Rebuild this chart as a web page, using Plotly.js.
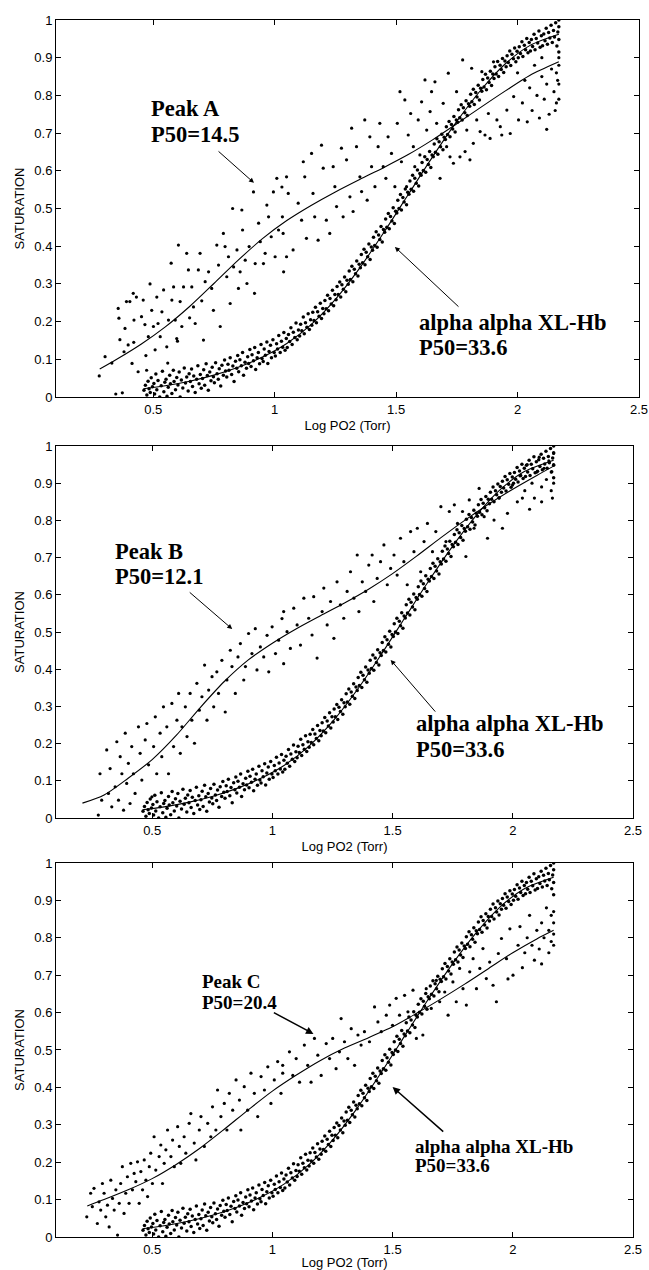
<!DOCTYPE html>
<html><head><meta charset="utf-8">
<script src="https://cdn.plot.ly/plotly-3.0.1.min.js"></script>
<style>html,body{margin:0;padding:0;background:#fff}</style>
</head><body><div id="chart" style="width:649px;height:1270px"></div>
<script>
// ---- tick labels ----
const xTickVals = [0.5, 1, 1.5, 2, 2.5];
const xTickText = ["0.5", "1", "1.5", "2", "2.5"];
const yTickVals = [0, 0.1, 0.2, 0.3, 0.4, 0.5, 0.6, 0.7, 0.8, 0.9, 1];
const yTickText = ["0", "0.1", "0.2", "0.3", "0.4", "0.5", "0.6", "0.7", "0.8", "0.9", "1"];

// ---- fitted curves ----
const alphaFitX = [0.46,0.55,0.65,0.75,0.85,0.95,1.05,1.15,1.25,1.35,1.45,1.55,1.65,1.75,1.85,1.95,2.05,2.17];
const alphaFitY = [0.022,0.030,0.042,0.058,0.079,0.106,0.142,0.192,0.259,0.342,0.437,0.537,0.637,0.731,0.815,0.884,0.932,0.962];

const peakAFitX = [0.28,0.35,0.45,0.55,0.65,0.75,0.85,0.95,1.05,1.15,1.25,1.35,1.45,1.55,1.65,1.75,1.85,1.95,2.05,2.17];
const peakAFitY = [0.074,0.100,0.140,0.186,0.240,0.301,0.363,0.420,0.468,0.508,0.544,0.577,0.609,0.643,0.682,0.725,0.769,0.812,0.853,0.889];

const peakBFitX = [0.21,0.30,0.40,0.50,0.60,0.70,0.80,0.90,1.00,1.10,1.20,1.30,1.40,1.50,1.60,1.70,1.80,1.90,2.00,2.10,2.17];
const peakBFitY = [0.040,0.062,0.107,0.157,0.222,0.297,0.367,0.425,0.470,0.509,0.544,0.578,0.615,0.657,0.704,0.753,0.800,0.844,0.884,0.921,0.946];

const peakCFitX = [0.23,0.30,0.40,0.50,0.60,0.70,0.80,0.90,1.00,1.10,1.20,1.30,1.40,1.50,1.60,1.70,1.80,1.90,2.00,2.10,2.17];
const peakCFitY = [0.083,0.100,0.126,0.156,0.194,0.238,0.288,0.340,0.390,0.433,0.472,0.505,0.533,0.562,0.598,0.636,0.676,0.718,0.760,0.797,0.820];

// ---- measured points (x = log PO2, y = saturation) ----
const alphaPts = [
[0.462,0.018],[0.468,0.031],[0.474,0.005],[0.479,0.042],[0.483,0.022],[0.488,0.012],[0.492,0.051],[0.497,0.027],
[0.503,0.036],[0.506,0.008],[0.511,0.061],[0.515,0.019],[0.52,0.044],[0.527,0.0],[0.533,0.03],[0.538,0.068],[0.544,0.014],[0.548,0.039],
[0.553,0.047],[0.557,0.002],[0.562,0.026],[0.568,0.058],[0.571,0.035],[0.577,0.009],[0.583,0.071],[0.586,0.041],[0.592,0.019],[0.597,0.052],
[0.602,0.032],[0.607,0.066],[0.611,0.0],[0.616,0.045],[0.622,0.024],[0.628,0.077],[0.633,0.037],[0.638,0.053],[0.644,0.016],[0.648,0.062],
[0.653,0.041],[0.658,0.074],[0.662,0.028],[0.667,0.056],[0.673,0.012],[0.679,0.047],[0.684,0.083],[0.689,0.035],[0.694,0.06],[0.698,0.023],
[0.703,0.049],[0.708,0.072],[0.712,0.031],[0.718,0.088],[0.723,0.057],[0.727,0.018],[0.733,0.066],[0.738,0.043],[0.743,0.079],[0.748,0.054],
[0.752,0.038],[0.757,0.091],[0.763,0.062],[0.768,0.047],[0.772,0.075],[0.778,0.029],[0.783,0.084],[0.789,0.058],[0.794,0.098],[0.798,0.069],
[0.803,0.053],[0.808,0.087],[0.812,0.071],[0.817,0.104],[0.823,0.06],[0.828,0.082],[0.833,0.041],[0.839,0.095],[0.844,0.076],[0.848,0.11],
[0.852,0.067],[0.857,0.099],[0.863,0.083],[0.868,0.118],[0.872,0.058],[0.878,0.092],[0.884,0.076],[0.889,0.107],[0.893,0.089],[0.898,0.126],
[0.903,0.081],[0.907,0.112],[0.913,0.096],[0.918,0.131],[0.922,0.073],[0.928,0.104],[0.933,0.118],[0.938,0.088],[0.944,0.139],[0.948,0.102],
[0.953,0.094],[0.957,0.127],[0.962,0.111],[0.968,0.146],[0.972,0.089],[0.977,0.121],[0.983,0.137],[0.987,0.104],[0.993,0.152],[0.998,0.118],
[1.003,0.109],[1.008,0.141],[1.012,0.127],[1.017,0.163],[1.023,0.118],[1.028,0.148],[1.033,0.132],[1.038,0.171],[1.043,0.124],[1.048,0.155],
[1.052,0.131],[1.057,0.166],[1.062,0.147],[1.067,0.184],[1.072,0.139],[1.077,0.172],[1.083,0.158],[1.088,0.196],[1.093,0.152],[1.098,0.178],
[1.103,0.162],[1.107,0.193],[1.112,0.176],[1.118,0.212],[1.122,0.168],[1.127,0.197],[1.133,0.185],[1.138,0.221],[1.143,0.179],[1.148,0.205],
[1.153,0.19],[1.157,0.225],[1.162,0.203],[1.168,0.238],[1.172,0.197],[1.177,0.226],[1.183,0.214],[1.188,0.249],[1.193,0.208],[1.198,0.235],
[1.203,0.221],[1.207,0.256],[1.212,0.234],[1.218,0.27],[1.222,0.229],[1.228,0.261],[1.233,0.247],[1.238,0.283],[1.243,0.242],[1.248,0.272],
[1.253,0.258],[1.257,0.293],[1.262,0.272],[1.268,0.305],[1.272,0.265],[1.277,0.298],[1.283,0.286],[1.288,0.318],[1.293,0.279],[1.298,0.31],
[1.303,0.299],[1.307,0.334],[1.312,0.312],[1.318,0.347],[1.322,0.306],[1.328,0.339],[1.333,0.327],[1.338,0.361],[1.343,0.321],[1.348,0.352],
[1.353,0.343],[1.357,0.378],[1.362,0.356],[1.368,0.392],[1.372,0.351],[1.377,0.384],[1.383,0.372],[1.388,0.406],[1.393,0.365],[1.398,0.398],
[1.403,0.389],[1.407,0.424],[1.412,0.402],[1.418,0.438],[1.422,0.397],[1.428,0.43],[1.433,0.418],[1.438,0.452],[1.443,0.411],[1.448,0.444],
[1.453,0.437],[1.457,0.472],[1.462,0.45],[1.468,0.487],[1.472,0.446],[1.477,0.479],[1.483,0.467],[1.488,0.502],[1.493,0.46],[1.498,0.493],
[1.503,0.488],[1.507,0.522],[1.512,0.5],[1.518,0.537],[1.522,0.496],[1.528,0.529],[1.533,0.517],[1.538,0.552],[1.543,0.51],[1.548,0.543],
[1.553,0.538],[1.557,0.573],[1.562,0.551],[1.568,0.588],[1.572,0.546],[1.577,0.58],[1.583,0.567],[1.588,0.602],[1.593,0.56],[1.598,0.593],
[1.603,0.588],[1.607,0.622],[1.612,0.601],[1.618,0.637],[1.622,0.596],[1.628,0.63],[1.633,0.617],[1.638,0.651],[1.643,0.609],[1.648,0.642],
[1.653,0.637],[1.657,0.671],[1.662,0.649],[1.668,0.685],[1.672,0.644],[1.677,0.677],[1.683,0.664],[1.688,0.697],[1.693,0.656],[1.698,0.689],
[1.703,0.683],[1.707,0.717],[1.712,0.696],[1.718,0.731],[1.722,0.69],[1.728,0.723],[1.733,0.711],[1.738,0.744],[1.743,0.703],[1.748,0.735],
[1.753,0.729],[1.757,0.762],[1.762,0.741],[1.768,0.775],[1.772,0.735],[1.777,0.767],[1.783,0.754],[1.788,0.786],[1.793,0.747],[1.798,0.778],
[1.803,0.771],[1.807,0.803],[1.812,0.783],[1.818,0.816],[1.822,0.776],[1.828,0.808],[1.833,0.796],[1.838,0.827],[1.843,0.788],[1.848,0.819],
[1.853,0.811],[1.857,0.842],[1.862,0.822],[1.868,0.856],[1.872,0.815],[1.877,0.846],[1.883,0.834],[1.888,0.864],[1.893,0.826],[1.898,0.857],
[1.903,0.845],[1.907,0.876],[1.912,0.857],[1.918,0.89],[1.922,0.85],[1.928,0.88],[1.933,0.869],[1.938,0.898],[1.943,0.861],[1.948,0.891],
[1.953,0.876],[1.957,0.905],[1.962,0.887],[1.968,0.918],[1.972,0.879],[1.977,0.909],[1.983,0.897],[1.988,0.926],[1.993,0.889],[1.998,0.917],
[2.003,0.9],[2.007,0.929],[2.012,0.911],[2.018,0.942],[2.022,0.903],[2.028,0.933],[2.033,0.921],[2.038,0.951],[2.043,0.913],[2.048,0.94],
[2.053,0.918],[2.057,0.948],[2.062,0.93],[2.068,0.962],[2.072,0.921],[2.077,0.951],[2.083,0.939],[2.088,0.971],[2.093,0.928],[2.098,0.958],
[2.103,0.932],[2.108,0.963],[2.113,0.945],[2.118,0.978],[2.123,0.936],[2.128,0.967],[2.133,0.952],[2.138,0.986],[2.143,0.94],[2.148,0.972],
[2.152,0.955],[2.157,0.993],[2.162,0.931],[2.166,0.968],[2.17,0.948],[2.17,0.982],[2.17,0.915],[2.17,1.0]
];

const peakAPts = [
[0.278,0.056],[0.302,0.107],[0.346,0.008],[0.373,0.011],[0.356,0.235],[0.359,0.209],[0.363,0.152],[0.384,0.182],[0.39,0.253],[0.404,0.253],
[0.418,0.275],[0.397,0.138],[0.413,0.089],[0.421,0.204],[0.431,0.265],[0.438,0.067],[0.452,0.213],[0.459,0.257],[0.466,0.192],[0.473,0.071],
[0.487,0.30],[0.494,0.23],[0.501,0.187],[0.515,0.265],[0.508,0.125],[0.529,0.16],[0.536,0.226],[0.543,0.284],[0.556,0.133],[0.563,0.204],
[0.574,0.355],[0.577,0.257],[0.584,0.292],[0.591,0.204],[0.604,0.403],[0.597,0.155],[0.611,0.253],[0.618,0.187],[0.625,0.292],[0.638,0.381],
[0.645,0.337],[0.659,0.292],[0.666,0.239],[0.673,0.195],[0.686,0.337],[0.693,0.381],[0.707,0.151],[0.714,0.306],[0.728,0.332],[0.741,0.288],
[0.748,0.23],[0.762,0.403],[0.769,0.35],[0.776,0.187],[0.789,0.434],[0.796,0.399],[0.803,0.319],[0.81,0.372],[0.817,0.248],[0.827,0.5],
[0.831,0.345],[0.845,0.39],[0.851,0.288],[0.858,0.332],[0.865,0.496],[0.868,0.443],[0.879,0.363],[0.886,0.301],[0.895,0.399],[0.913,0.544],
[0.917,0.275],[0.92,0.354],[0.934,0.461],[0.941,0.412],[0.954,0.354],[0.961,0.381],[0.968,0.509],[0.975,0.478],[0.986,0.425],[0.995,0.544],
[1.002,0.372],[1.009,0.58],[1.016,0.443],[1.03,0.557],[1.032,0.478],[1.037,0.332],[0.33,0.09],[0.42,0.145],[0.47,0.11],[0.52,0.195],
[0.60,0.148],[0.65,0.21],[0.70,0.255],[0.56,0.09],[0.48,0.16],[0.38,0.12],
[1.049,0.584],[1.056,0.54],[1.035,0.434],[1.049,0.372],[1.076,0.39],[1.097,0.514],[1.111,0.469],[1.118,0.624],[1.124,0.584],[1.131,0.421],
[1.152,0.646],[1.158,0.54],[1.165,0.478],[1.179,0.416],[1.193,0.668],[1.20,0.607],[1.213,0.469],[1.227,0.434],[1.241,0.611],[1.248,0.558],
[1.255,0.505],[1.275,0.66],[1.282,0.478],[1.296,0.629],[1.31,0.531],[1.317,0.713],[1.323,0.492],[1.337,0.664],[1.351,0.584],[1.358,0.545],
[1.371,0.735],[1.381,0.522],[1.392,0.69],[1.399,0.611],[1.413,0.558],[1.426,0.664],[1.433,0.726],[1.447,0.611],[1.458,0.58],[1.467,0.69],
[1.481,0.646],[1.495,0.558],[1.505,0.726],[1.516,0.81],[1.522,0.624],[1.536,0.788],[1.543,0.558],[1.55,0.695],[1.56,0.752],[1.571,0.664],
[1.577,0.611],[1.591,0.735],[1.598,0.642],[1.605,0.783],[1.619,0.841],[1.626,0.708],[1.64,0.757],[1.646,0.81],[1.66,0.836],[1.667,0.726],
[1.681,0.58],[1.694,0.779],[1.708,0.664],[1.715,0.859],[1.722,0.637],[1.736,0.62],[1.749,0.81],[1.763,0.637],[1.774,0.894],[1.784,0.651],
[1.791,0.708],[1.804,0.629],[1.811,0.872],[1.818,0.673],[1.832,0.735],[1.846,0.704],[1.853,0.863],[1.866,0.695],[1.88,0.752],[1.887,0.686],
[1.901,0.889],[1.915,0.735],[1.929,0.717],[1.935,0.695],[1.956,0.761],[1.97,0.699],[1.984,0.797],[2.004,0.735],
[2.02,0.78],[2.03,0.84],[2.05,0.82],[2.06,0.76],[2.07,0.88],[2.08,0.80],[2.09,0.74],[2.10,0.85],[2.11,0.79],[2.12,0.83],
[2.13,0.75],[2.14,0.87],[2.15,0.81],[2.16,0.78],[2.16,0.86],[2.17,0.79],[2.17,0.83],[2.17,0.88],[2.17,0.90],[2.165,0.84],
[2.155,0.76],[2.12,0.71],[2.10,0.90],[2.04,0.73],[2.00,0.86]
];

const peakBPts = [
[0.276,0.008],[0.283,0.119],[0.29,0.048],[0.311,0.183],[0.318,0.066],[0.325,0.133],[0.332,0.030],[0.346,0.084],[0.353,0.205],[0.36,0.048],
[0.367,0.165],[0.374,0.119],[0.381,0.021],[0.388,0.228],[0.394,0.093],[0.401,0.147],[0.408,0.039],[0.415,0.192],[0.422,0.119],[0.429,0.066],
[0.443,0.245],[0.45,0.174],[0.457,0.102],[0.471,0.21],[0.478,0.254],[0.485,0.143],[0.499,0.057],[0.506,0.192],[0.513,0.272],[0.519,0.119],
[0.533,0.228],[0.54,0.165],[0.547,0.299],[0.561,0.245],[0.568,0.119],[0.582,0.308],[0.589,0.192],[0.603,0.263],[0.61,0.335],[0.617,0.174],
[0.624,0.245],[0.638,0.299],[0.645,0.219],[0.658,0.335],[0.665,0.263],[0.676,0.201],[0.686,0.362],[0.696,0.29],[0.707,0.326],[0.718,0.411],
[0.728,0.263],[0.735,0.344],[0.749,0.38],[0.756,0.299],[0.769,0.393],[0.776,0.335],[0.79,0.424],[0.804,0.285],[0.811,0.371],[0.825,0.451],
[0.832,0.407],[0.846,0.335],[0.857,0.433],[0.867,0.469],[0.881,0.371],[0.888,0.407],[0.901,0.496],[0.915,0.442],[0.929,0.509],[0.936,0.398],
[0.95,0.46],[0.964,0.433],[0.978,0.491],[0.985,0.393],[0.999,0.514],[1.013,0.442],[1.026,0.478],[1.04,0.536],[1.047,0.415],
[1.047,0.555],[1.061,0.501],[1.075,0.456],[1.089,0.564],[1.103,0.519],[1.117,0.465],[1.131,0.591],[1.151,0.537],[1.165,0.492],[1.172,0.595],
[1.186,0.43],[1.207,0.555],[1.214,0.618],[1.228,0.519],[1.242,0.582],[1.256,0.483],[1.269,0.635],[1.283,0.573],[1.297,0.537],[1.311,0.609],
[1.325,0.662],[1.339,0.591],[1.353,0.707],[1.36,0.555],[1.374,0.635],[1.388,0.609],[1.401,0.68],[1.415,0.707],[1.422,0.582],[1.436,0.644],
[1.45,0.689],[1.464,0.734],[1.478,0.627],[1.492,0.671],[1.506,0.707],[1.519,0.653],[1.533,0.752],[1.547,0.689],[1.561,0.627],[1.575,0.77],
[1.589,0.716],[1.603,0.779],[1.617,0.662],[1.631,0.743],[1.645,0.792],[1.666,0.716],[1.68,0.77],[1.701,0.837],[1.722,0.743],[1.736,0.824],
[1.757,0.842],[1.77,0.792],[1.791,0.824],[1.805,0.703],[1.819,0.855],[1.839,0.779],[1.86,0.886],[1.881,0.81],[1.895,0.752],[1.922,0.801],
[1.943,0.86],[1.957,0.779],[1.978,0.819],[1.999,0.895],[2.019,0.85],
[2.03,0.92],[2.05,0.88],[2.06,0.95],[2.08,0.90],[2.09,0.86],[2.10,0.93],[2.11,0.97],[2.12,0.89],[2.13,0.94],[2.14,0.91],
[2.15,0.96],[2.16,0.88],[2.16,0.93],[2.17,0.90],[2.17,0.95],[2.17,0.98],[2.165,0.86],[2.04,0.86],[2.07,0.83],[2.12,0.85]
];

const peakCPts = [
[0.228,0.054],[0.244,0.117],[0.251,0.081],[0.258,0.13],[0.272,0.036],[0.279,0.094],[0.286,0.072],[0.293,0.143],[0.30,0.117],[0.307,0.054],
[0.314,0.085],[0.321,0.027],[0.328,0.152],[0.335,0.103],[0.342,0.072],[0.349,0.126],[0.356,0.005],[0.363,0.09],[0.369,0.143],[0.376,0.188],
[0.383,0.063],[0.39,0.117],[0.397,0.161],[0.404,0.09],[0.411,0.197],[0.418,0.126],[0.425,0.17],[0.432,0.148],[0.439,0.201],[0.446,0.09],
[0.453,0.175],[0.46,0.126],[0.467,0.206],[0.474,0.152],[0.481,0.108],[0.488,0.188],[0.494,0.224],[0.501,0.143],[0.508,0.268],[0.515,0.179],
[0.529,0.215],[0.536,0.246],[0.543,0.143],[0.55,0.197],[0.557,0.233],[0.564,0.286],[0.578,0.215],[0.585,0.259],[0.592,0.188],[0.606,0.295],
[0.613,0.242],[0.619,0.197],[0.633,0.268],[0.64,0.224],[0.654,0.304],[0.661,0.33],[0.675,0.251],[0.682,0.206],[0.696,0.286],[0.703,0.322],
[0.717,0.242],[0.731,0.304],[0.744,0.268],[0.751,0.348],[0.765,0.286],[0.772,0.393],[0.786,0.322],[0.80,0.357],[0.811,0.286],[0.821,0.384],
[0.835,0.339],[0.849,0.42],[0.863,0.366],[0.869,0.286],[0.883,0.402],[0.897,0.339],[0.911,0.438],[0.925,0.384],[0.939,0.322],[0.953,0.429],
[0.967,0.393],[0.981,0.455],[0.994,0.357],[1.008,0.42],[1.022,0.469],[1.036,0.384],[1.043,0.438],
[1.043,0.459],[1.071,0.495],[1.085,0.432],[1.099,0.477],[1.113,0.414],[1.133,0.513],[1.147,0.459],[1.161,0.414],[1.175,0.531],[1.189,0.486],
[1.203,0.432],[1.224,0.517],[1.238,0.477],[1.251,0.531],[1.265,0.45],[1.279,0.495],[1.286,0.584],[1.30,0.522],[1.314,0.477],[1.328,0.557],
[1.342,0.459],[1.356,0.54],[1.369,0.513],[1.383,0.549],[1.404,0.522],[1.425,0.615],[1.439,0.575],[1.453,0.549],[1.474,0.593],[1.488,0.62],
[1.50,0.566],[1.515,0.638],[1.529,0.593],[1.55,0.646],[1.564,0.602],[1.585,0.66],[1.599,0.531],[1.626,0.54],[1.64,0.664],[1.661,0.611],
[1.682,0.686],[1.696,0.629],[1.717,0.655],[1.731,0.593],[1.751,0.682],[1.765,0.629],[1.779,0.718],[1.793,0.664],[1.807,0.62],[1.821,0.709],
[1.835,0.744],[1.849,0.664],[1.863,0.718],[1.876,0.771],[1.89,0.691],[1.904,0.735],[1.918,0.673],[1.932,0.629],[1.94,0.758],[1.953,0.798],
[1.974,0.744],[1.988,0.824],[2.001,0.70],[2.022,0.78],
[2.03,0.83],[2.05,0.76],[2.06,0.80],[2.07,0.86],[2.08,0.78],[2.09,0.74],[2.10,0.82],[2.11,0.77],[2.12,0.84],[2.13,0.80],
[2.14,0.88],[2.15,0.76],[2.15,0.82],[2.16,0.86],[2.16,0.79],[2.17,0.81],[2.17,0.84],[2.17,0.87],[2.17,0.78],[2.04,0.72],
[2.12,0.73],[1.98,0.69]
];

// ---- build figure ----
const tickFont = {family: "Liberation Sans, Arial, sans-serif", size: 13, color: "#000"};
const titleFont = {family: "Liberation Sans, Arial, sans-serif", size: 13, color: "#000"};
const serif = "Liberation Serif, Times New Roman, serif";

const panels = [
  {peak: peakAPts, fx: peakAFitX, fy: peakAFitY, xd: [0.0863, 0.9846], yd: [0.6874, 0.98425]},
  {peak: peakBPts, fx: peakBFitX, fy: peakBFitY, xd: [0.0863, 0.9753], yd: [0.3559, 0.6488]},
  {peak: peakCPts, fx: peakCFitX, fy: peakCFitY, xd: [0.0863, 0.9753], yd: [0.0260, 0.3205]}
];

const traces = [];
const layout = {
  width: 649, height: 1270,
  margin: {l: 0, r: 0, t: 0, b: 0},
  paper_bgcolor: "#fff", plot_bgcolor: "#fff",
  showlegend: false,
  annotations: []
};

panels.forEach((p, i) => {
  const n = i === 0 ? "" : String(i + 1);
  const xa = "x" + n, ya = "y" + n;
  traces.push({type: "scatter", mode: "markers", xaxis: xa, yaxis: ya,
    x: alphaPts.map(d => d[0]), y: alphaPts.map(d => d[1]), marker: {color: "#000", size: 3.5}, hoverinfo: "skip"});
  traces.push({type: "scatter", mode: "markers", xaxis: xa, yaxis: ya,
    x: p.peak.map(d => d[0]), y: p.peak.map(d => d[1]), marker: {color: "#000", size: 3.2}, hoverinfo: "skip"});
  traces.push({type: "scatter", mode: "lines", xaxis: xa, yaxis: ya,
    x: alphaFitX, y: alphaFitY, line: {color: "#000", width: 1.1, shape: "spline", smoothing: 0.8}});
  traces.push({type: "scatter", mode: "lines", xaxis: xa, yaxis: ya,
    x: p.fx, y: p.fy, line: {color: "#000", width: 1.1, shape: "spline", smoothing: 0.8}});

  layout["xaxis" + n] = {
    domain: p.xd, anchor: ya, range: [0.1, 2.5],
    tickvals: xTickVals, ticktext: xTickText,
    ticks: "inside", ticklen: 5, tickcolor: "#000", tickwidth: 1,
    showline: true, linecolor: "#000", linewidth: 1, mirror: "ticks",
    showgrid: false, zeroline: false, tickfont: tickFont, automargin: false,
    title: {text: "Log PO2 (Torr)", font: titleFont, standoff: 5}
  };
  layout["yaxis" + n] = {
    domain: p.yd, anchor: xa, range: [0, 1],
    tickvals: yTickVals, ticktext: yTickText,
    ticks: "inside", ticklen: 5, tickcolor: "#000", tickwidth: 1,
    showline: true, linecolor: "#000", linewidth: 1, mirror: "ticks",
    showgrid: false, zeroline: false, tickfont: tickFont, automargin: false,
    title: {text: "SATURATION", font: titleFont, standoff: 6}
  };
});

function txt(n, x, y, s, size) {
  return {xref: "x" + n, yref: "y" + n, x: x, y: y, text: "<b>" + s + "</b>",
    showarrow: false, xanchor: "left", yanchor: "middle",
    font: {family: serif, size: size, color: "#000"}};
}
function arr(n, hx, hy, tx, ty, w) {
  return {xref: "x" + n, yref: "y" + n, axref: "x" + n, ayref: "y" + n,
    x: hx, y: hy, ax: tx, ay: ty, text: "", showarrow: true,
    arrowhead: 2, arrowsize: 1, arrowwidth: w, arrowcolor: "#000", standoff: 0};
}
layout.annotations.push(
  txt("", 0.483, 0.765, "Peak A", 22.5), txt("", 0.483, 0.696, "P50=14.5", 22.5),
  txt("", 1.586, 0.197, "alpha alpha XL-Hb", 22.5), txt("", 1.586, 0.131, "P50=33.6", 22.5),
  arr("", 0.915, 0.568, 0.763, 0.655, 1), arr("", 1.495, 0.398, 1.763, 0.236, 1),
  txt("2", 0.3375, 0.716, "Peak B", 22.5), txt("2", 0.3375, 0.649, "P50=12.1", 22.5),
  txt("2", 1.5875, 0.2535, "alpha alpha XL-Hb", 22.5), txt("2", 1.5875, 0.1836, "P50=33.6", 22.5),
  arr("2", 0.833, 0.508, 0.65, 0.61, 1), arr("2", 1.492, 0.425, 1.683, 0.282, 1),
  txt("3", 0.70, 0.684, "Peak C", 19), txt("3", 0.70, 0.628, "P50=20.4", 19),
  txt("3", 1.583, 0.243, "alpha alpha XL-Hb", 19), txt("3", 1.583, 0.19, "P50=33.6", 19),
  arr("3", 1.171, 0.543, 1.0, 0.602, 1.5), arr("3", 1.5, 0.401, 1.717, 0.278, 1.5)
);

Plotly.newPlot("chart", traces, layout, {staticPlot: true, displayModeBar: false});
</script>
</body></html>
